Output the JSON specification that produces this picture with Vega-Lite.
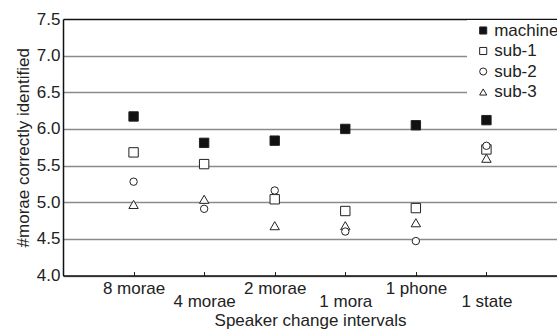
{
  "$schema": "https://vega.github.io/schema/vega-lite/v6.json",
  "width": 494,
  "height": 256.5,
  "autosize": {"type": "none"},
  "padding": {"left": 63, "top": 19, "right": 0, "bottom": 53.5},
  "config": {
    "view": {"stroke": null},
    "font": "Liberation Sans",
    "axis": {"labelColor": "#222", "titleColor": "#222", "labelFontSize": 17, "titleFontSize": 17, "titleFontWeight": "normal", "labelFont": "Liberation Sans", "titleFont": "Liberation Sans"}
  },
  "data": {
    "values": [
      {"series": "machine", "pos": 1, "value": 6.17},
      {"series": "sub-1", "pos": 1, "value": 5.68},
      {"series": "sub-2", "pos": 1, "value": 5.28},
      {"series": "sub-3", "pos": 1, "value": 4.97},
      {"series": "machine", "pos": 2, "value": 5.81},
      {"series": "sub-1", "pos": 2, "value": 5.52},
      {"series": "sub-2", "pos": 2, "value": 4.91},
      {"series": "sub-3", "pos": 2, "value": 5.04},
      {"series": "machine", "pos": 3, "value": 5.84},
      {"series": "sub-1", "pos": 3, "value": 5.04},
      {"series": "sub-2", "pos": 3, "value": 5.16},
      {"series": "sub-3", "pos": 3, "value": 4.68},
      {"series": "machine", "pos": 4, "value": 6.0},
      {"series": "sub-1", "pos": 4, "value": 4.88},
      {"series": "sub-2", "pos": 4, "value": 4.6},
      {"series": "sub-3", "pos": 4, "value": 4.68},
      {"series": "machine", "pos": 5, "value": 6.05},
      {"series": "sub-1", "pos": 5, "value": 4.92},
      {"series": "sub-2", "pos": 5, "value": 4.47},
      {"series": "sub-3", "pos": 5, "value": 4.72},
      {"series": "machine", "pos": 6, "value": 6.12},
      {"series": "sub-1", "pos": 6, "value": 5.72},
      {"series": "sub-2", "pos": 6, "value": 5.77},
      {"series": "sub-3", "pos": 6, "value": 5.6}
    ]
  },
  "encoding": {
    "x": {
      "field": "pos", "type": "quantitative",
      "scale": {"domain": [0, 7], "nice": false, "zero": false},
      "axis": {
        "orient": "bottom",
        "values": [1, 2, 3, 4, 5, 6],
        "labelExpr": "['', '8 morae', '4 morae', '2 morae', '1 mora', '1 phone', '1 state'][datum.value]",
        "labelPadding": {"condition": {"test": "datum.value % 2 == 0", "value": 22}, "value": 9},
        "tickSize": -4,
        "tickColor": "#222",
        "tickWidth": 1,
        "domainColor": "#111",
        "domainWidth": 1.5,
        "grid": false,
        "labelFlush": false,
        "labelOverlap": false,
        "title": "Speaker change intervals",
        "titlePadding": 3
      }
    },
    "y": {
      "field": "value", "type": "quantitative",
      "scale": {"domain": [4, 7.5], "nice": false, "zero": false},
      "axis": {
        "values": [4, 4.5, 5, 5.5, 6, 6.5, 7, 7.5],
        "format": ".1f",
        "ticks": false,
        "labelPadding": 3,
        "domainColor": "#111",
        "domainWidth": 1.5,
        "grid": true,
        "gridColor": {"condition": {"test": "datum.value == 7.5", "value": "#111"}, "value": "#8a8a8a"},
        "gridWidth": {"condition": {"test": "datum.value == 7.5", "value": 1.5}, "value": 1.6},
        "labelFlush": false,
        "labelOverlap": false,
        "title": "#morae correctly identified",
        "titlePadding": 4
      }
    },
    "shape": {
      "field": "series", "type": "nominal",
      "scale": {"domain": ["machine", "sub-1", "sub-2", "sub-3"], "range": ["square", "square", "circle", "triangle-up"]},
      "legend": {
        "orient": "none", "legendX": 404, "legendY": 1, "title": null,
        "fillColor": "white", "padding": 2, "symbolSize": 50, "symbolOffset": 5.7,
        "labelFontSize": 17, "labelFont": "Liberation Sans", "labelColor": "#222",
        "labelOffset": 2.5, "rowPadding": 2.5, "symbolStrokeWidth": 1
      }
    },
    "fill": {
      "field": "series", "type": "nominal",
      "scale": {"domain": ["machine", "sub-1", "sub-2", "sub-3"], "range": ["#111", "white", "white", "white"]},
      "legend": {
        "orient": "none", "legendX": 404, "legendY": 1, "title": null,
        "fillColor": "white", "padding": 2, "symbolSize": 50, "symbolOffset": 5.7,
        "labelFontSize": 17, "labelFont": "Liberation Sans", "labelColor": "#222",
        "labelOffset": 2.5, "rowPadding": 2.5, "symbolStrokeWidth": 1
      }
    },
    "stroke": {
      "field": "series", "type": "nominal",
      "scale": {"domain": ["machine", "sub-1", "sub-2", "sub-3"], "range": ["#222", "#222", "#222", "#222"]},
      "legend": {
        "orient": "none", "legendX": 404, "legendY": 1, "title": null,
        "fillColor": "white", "padding": 2, "symbolSize": 50, "symbolOffset": 5.7,
        "labelFontSize": 17, "labelFont": "Liberation Sans", "labelColor": "#222",
        "labelOffset": 2.5, "rowPadding": 2.5, "symbolStrokeWidth": 1
      }
    }
  },
  "layer": [
    {
      "transform": [{"filter": "datum.series != 'sub-2'"}],
      "mark": {"type": "point", "filled": true, "strokeWidth": 1, "opacity": 1, "size": 88}
    },
    {
      "transform": [{"filter": "datum.series == 'sub-2'"}],
      "mark": {"type": "point", "filled": true, "strokeWidth": 1, "opacity": 1, "size": 55}
    }
  ]
}
